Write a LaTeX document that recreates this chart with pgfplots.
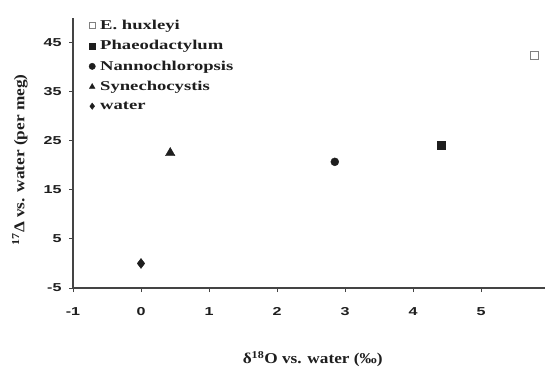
\documentclass[border=0pt]{standalone}
\usepackage{fontspec}
\usepackage{pgfplots}
\pgfplotsset{compat=1.18}
\setmainfont{Liberation Serif}
\newfontfamily\labfont[FakeStretch=1.15]{Liberation Serif}
\newfontfamily\legfont[FakeStretch=1.38]{Liberation Serif}
\newfontfamily\tickfont[FakeStretch=1.4]{Liberation Sans}
\definecolor{ink}{HTML}{1E1E1E}
\definecolor{axgray}{HTML}{444444}
\begin{document}
\begin{tikzpicture}
\useasboundingbox (0,0) rectangle (545pt,369pt);
\begin{axis}[
  at={(73pt,81pt)}, anchor=south west,
  scale only axis, width=479.4pt, height=270pt,
  xmin=-1, xmax=6.05, ymin=-5, ymax=50,
  axis x line*=bottom, axis y line*=left,
  axis line style={line width=1.2pt, draw=axgray, -},
  xtick={-1,0,1,2,3,4,5,6}, xticklabels={-1,0,1,2,3,4,5,6},
  ytick={-5,5,15,25,35,45}, yticklabels={-5,5,15,25,35,45},
  tick align=outside, major tick length=4pt,
  tick style={line width=1pt, draw=axgray},
  ticklabel style={font=\tickfont\bfseries\fontsize{11.5}{13}\selectfont, text=ink},
  xticklabel style={yshift=-12pt},
  yticklabel style={xshift=-4pt},
  xlabel={δ\textsuperscript{18}O vs. water (‰)},
  ylabel={\textsuperscript{17}Δ vs. water (per meg)},
  label style={font=\labfont\bfseries\fontsize{15}{17}\selectfont, text=ink},
  xlabel style={at={(axis description cs:0.5,0)}, anchor=center, yshift=-71pt},
  ylabel style={at={(axis description cs:0,0.5)}, anchor=center, xshift=-7pt, yshift=53pt},
  legend style={at={(rel axis cs:0.0,1.0)}, anchor=north west, draw=none, fill=none,
    font=\legfont\bfseries\fontsize{13.5}{15}\selectfont, text=ink,
    row sep=5.5pt, inner sep=0pt},
  legend cell align=left,
  legend image code/.code={%
    \path[draw=none,fill=none] (0pt,-1pt) rectangle (25pt,1pt);
    \draw[#1, only marks, mark size=3.2pt] plot coordinates {(19pt,0pt)};},
  clip=false,
]
\addplot[only marks, mark=square*, mark size=4pt, draw=gray, fill=white, line width=0.9pt] coordinates {(5.78,42.4)};
\addlegendentry{E. huxleyi}
\addplot[only marks, mark=square*, mark size=4pt, draw=ink, fill=ink] coordinates {(4.42,24.0)};
\addlegendentry{Phaeodactylum}
\addplot[only marks, mark=*, mark size=4pt, draw=ink, fill=ink] coordinates {(2.85,20.7)};
\addlegendentry{Nannochloropsis}
\addplot[only marks, mark=triangle*, mark size=5.5pt, draw=ink, fill=ink] coordinates {(0.43,22.5)};
\addlegendentry{Synechocystis}
\addplot[only marks, mark=diamond*, mark size=5pt, draw=ink, fill=ink] coordinates {(0,0)};
\addlegendentry{water}
\end{axis}
\end{tikzpicture}
\end{document}
